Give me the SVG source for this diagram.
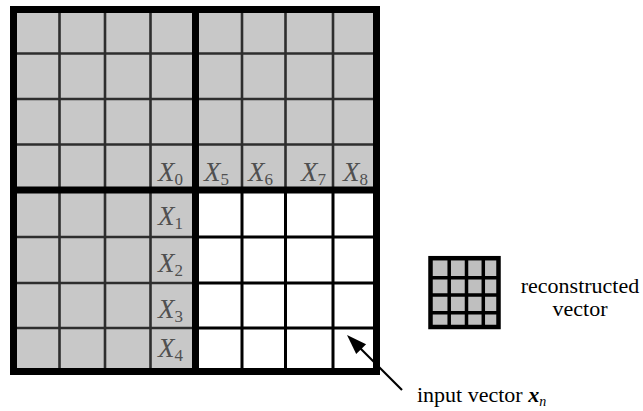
<svg xmlns="http://www.w3.org/2000/svg" width="643" height="411" viewBox="0 0 643 411">
<style>
.gray{fill:#c8c8c8}
.gl{stroke:#2e2e2e;stroke-width:2.6;fill:none}
.wl{stroke:#000;stroke-width:3;fill:none}
.thick{stroke:#000;stroke-width:7;fill:none}
.lbl{font-family:"Liberation Serif","Times New Roman",serif;font-style:italic;font-size:27px;fill:#505050}
.sub{font-style:normal;font-size:17px}
.txt{font-family:"Liberation Serif","Times New Roman",serif;font-size:22px;fill:#000}
</style>
<rect width="643" height="411" fill="#fff"/>
<g id="big-grid">
  <rect class="gray" x="13" y="9" width="364" height="363"/>
  <rect x="195" y="190" width="182" height="182" fill="#fff"/>
  <!-- gray area lines -->
  <path class="gl" d="M59.5 9V372M105 9V372M150.5 9V372M242 9V190M285.5 9V190M333 9V190"/>
  <path class="gl" d="M13 53.5H377M13 99H377M13 144.5H377M13 237H195M13 283H195M13 328H195"/>
  <!-- white area lines -->
  <path class="wl" d="M242 190V372M285.5 190V372M333 190V372M195 237H377M195 283H377M195 328H377"/>
  <rect class="thick" x="13.5" y="9.5" width="363" height="362"/>
  <path class="thick" d="M195.5 9V372M13 190H377"/>
</g>
<g id="labels">
  <text class="lbl" x="158" y="181">X<tspan class="sub" dy="4">0</tspan></text>
  <text class="lbl" x="204" y="181">X<tspan class="sub" dy="4">5</tspan></text>
  <text class="lbl" x="248" y="181">X<tspan class="sub" dy="4">6</tspan></text>
  <text class="lbl" x="301" y="181">X<tspan class="sub" dy="4">7</tspan></text>
  <text class="lbl" x="343" y="181">X<tspan class="sub" dy="4">8</tspan></text>
  <text class="lbl" x="158" y="225">X<tspan class="sub" dy="4">1</tspan></text>
  <text class="lbl" x="158" y="272">X<tspan class="sub" dy="4">2</tspan></text>
  <text class="lbl" x="158" y="318">X<tspan class="sub" dy="4">3</tspan></text>
  <text class="lbl" x="158" y="357">X<tspan class="sub" dy="4">4</tspan></text>
</g>
<g id="reconstructed-vector">
  <rect x="430.5" y="258.2" width="68" height="68.8" fill="#bfbfbf" stroke="#000" stroke-width="4.5"/>
  <path d="M449.2 258V327M466.5 258V327M483.3 258V327M430 277.7H499M430 295H499M430 312.7H499" stroke="#000" stroke-width="3.5" fill="none"/>
  <text class="txt" x="580" y="293" text-anchor="middle">reconstructed</text>
  <text class="txt" x="580" y="316" text-anchor="middle">vector</text>
</g>
<g id="connectors">
  <line x1="402" y1="390" x2="359" y2="347" stroke="#000" stroke-width="2.2"/>
  <polygon points="347,335 366.1,344.2 356.2,354.1" fill="#000"/>
</g>
<g id="input-label">
  <text class="txt" x="417" y="402">input vector <tspan font-weight="bold" font-style="italic">x</tspan><tspan font-style="italic" font-size="14" dy="4">n</tspan></text>
</g>
</svg>
